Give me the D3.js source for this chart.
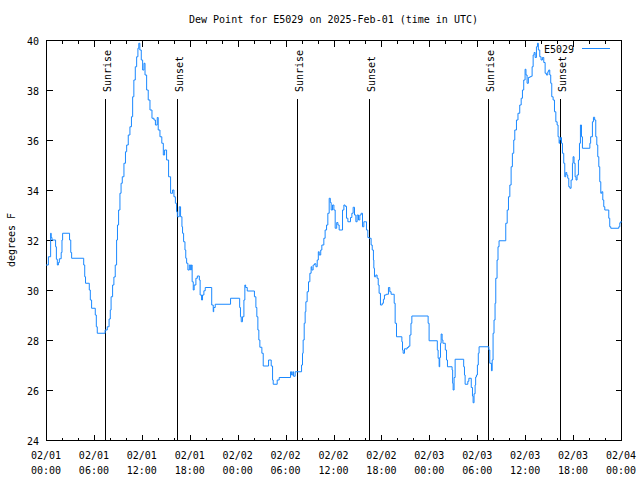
<!DOCTYPE html>
<html><head><meta charset="utf-8">
<script src="https://cdn.jsdelivr.net/npm/d3@7"></script>
<style>
body{margin:0;background:#fff;}
text{font-family:"DejaVu Sans Mono","Liberation Mono",monospace;font-size:10px;fill:#000;}
</style></head><body>
<svg id="c" width="640" height="480"></svg>
<script>
// Hours since 2025-02-01 00:00 UTC
const hours = [0.0,0.3,0.58,0.65,0.75,1.2,1.3,1.42,1.55,1.67,1.9,2.0,2.08,2.95,3.1,3.21,4.72,4.85,4.95,5.42,5.55,5.71,6.17,6.3,6.42,7.4,7.67,7.9,8.05,8.15,8.34,8.5,8.67,8.84,8.95,9.09,9.26,9.4,9.55,9.76,9.95,10.1,10.3,10.51,10.7,10.85,11.0,11.18,11.35,11.51,11.62,11.75,11.93,12.1,12.27,12.4,12.6,12.8,13.02,13.27,13.52,13.7,13.93,14.05,14.27,14.5,14.69,14.85,15.1,15.35,15.6,15.85,16.02,16.2,16.35,16.45,16.69,16.85,17.02,17.1,17.23,17.4,17.5,17.61,17.77,17.95,18.11,18.2,18.3,18.44,18.55,18.77,18.95,19.2,19.3,19.48,19.6,19.77,19.94,20.75,20.94,21.0,21.19,23.11,24.25,24.35,24.45,24.6,24.78,24.9,25.0,25.2,26.1,26.28,26.4,26.53,26.65,26.78,27.03,27.2,27.87,28.2,28.37,28.45,28.95,29.2,30.62,30.75,30.9,31.0,31.2,32.0,32.12,32.2,32.33,32.45,32.54,32.7,32.87,33.04,33.2,33.29,33.45,33.62,33.8,33.96,34.1,34.21,34.4,34.54,34.79,34.95,35.13,35.29,35.46,35.6,35.71,35.88,36.05,36.21,36.4,36.55,36.71,37.13,37.3,37.45,37.63,37.8,38.13,38.3,38.46,38.63,38.8,38.96,39.13,39.3,39.46,39.63,39.8,39.97,40.13,40.3,40.46,40.71,40.85,41.0,41.05,41.13,41.3,41.46,41.6,41.71,41.88,42.1,42.25,42.38,42.6,42.88,43.05,43.21,43.6,43.72,43.89,44.56,44.64,44.72,44.89,45.06,45.22,45.4,45.56,45.7,45.81,47.85,47.97,49.0,49.1,49.23,49.3,49.4,49.48,49.6,49.7,50.0,50.15,50.27,50.85,50.92,50.98,51.1,51.23,52.3,52.4,52.48,52.82,52.95,53.25,53.4,53.48,53.6,53.73,53.8,53.9,54.02,54.13,54.23,55.45,55.57,55.78,55.87,55.98,56.1,56.23,56.32,56.48,56.6,56.73,57.57,57.75,57.91,58.08,58.24,58.4,58.57,58.7,58.91,59.1,59.32,59.5,59.66,59.82,59.99,60.1,60.24,60.4,60.58,60.75,60.87,61.0,61.12,61.25,61.41,61.54,61.65,61.83,61.99,62.16,62.33,62.5,62.66,62.83,62.95,63.08,63.2,63.33,63.5,63.67,63.84,64.0,64.12,64.25,64.33,64.42,64.55,64.67,64.83,64.96,65.08,65.21,65.33,65.46,65.6,65.75,65.92,66.0,66.12,66.25,66.37,66.5,66.67,66.8,66.92,67.05,67.17,68.1,68.2,68.42,68.55,68.7,68.84,68.97,69.09,69.22,69.34,69.47,69.59,69.72,69.84,69.97,70.47,70.59,70.72,71.72,71.85,72.0];
const dewF = [31.0,31.33,32.27,32.1,32.0,31.73,31.23,31.0,31.1,31.25,31.5,32.0,32.27,32.0,31.5,31.27,31.0,30.53,30.27,30.0,29.6,29.27,29.0,28.53,28.27,28.4,28.53,28.84,29.2,29.73,30.2,30.52,31.0,32.0,32.6,33.2,33.87,34.27,34.53,35.07,35.53,35.8,36.2,36.53,36.93,37.73,38.4,38.93,39.33,39.67,39.87,39.6,39.2,38.8,39.07,38.6,38.0,37.6,37.2,36.87,36.8,36.6,36.9,36.4,36.13,35.87,35.4,35.6,35.2,34.53,33.87,34.0,33.73,33.47,33.13,32.93,33.33,32.93,32.53,32.27,31.93,31.6,31.27,31.07,30.8,31.0,30.8,31.0,30.33,30.0,30.2,30.47,30.56,30.4,29.8,29.6,29.8,29.97,30.1,29.4,29.13,29.3,29.43,29.67,29.3,28.93,28.73,28.93,29.6,30.2,30.1,29.96,29.73,29.3,28.93,28.4,28.0,27.71,27.47,26.96,27.2,26.96,26.4,26.23,26.4,26.5,26.73,26.6,26.73,26.55,26.73,27.0,27.47,28.0,28.67,29.13,29.53,29.93,30.33,30.67,30.93,30.8,31.0,31.05,30.93,31.2,31.53,31.4,31.6,31.8,32.07,32.4,32.6,33.07,33.67,33.5,33.2,33.4,33.2,32.47,32.7,32.6,32.4,33.2,33.4,33.35,32.87,32.73,32.9,33.07,33.31,33.0,32.73,33.0,32.8,33.0,33.07,32.53,32.73,32.73,32.4,32.1,32.07,31.8,31.6,31.2,30.87,30.53,30.6,30.47,30.2,29.87,29.4,29.47,29.63,29.8,29.83,30.1,29.93,29.83,29.47,28.67,28.13,27.93,27.6,27.47,27.65,27.64,27.7,27.75,28.2,28.67,28.96,28.67,27.97,27.6,27.27,26.93,27.3,27.87,28.24,28.0,27.87,27.6,27.2,26.93,26.8,26.27,26.0,26.5,27.23,26.93,26.6,26.23,26.35,26.47,26.1,25.76,25.49,25.85,26.2,26.52,26.6,27.0,27.47,27.73,27.6,27.07,26.77,27.2,28.27,28.8,29.47,30.47,31.2,31.73,31.97,32.67,33.2,33.73,34.2,34.93,35.47,36.0,36.4,36.8,37.07,37.4,37.67,38.0,38.4,38.83,38.6,38.27,38.5,38.53,38.55,38.93,39.4,39.5,39.3,39.73,39.87,39.6,39.33,39.2,39.3,39.1,38.67,38.6,38.73,38.8,38.6,38.27,37.73,37.6,37.13,36.73,36.6,36.13,35.87,36.0,36.1,35.87,35.47,35.07,34.53,34.7,34.6,34.47,34.13,34.07,34.4,35.07,35.33,35.07,34.53,34.4,34.6,35.2,35.87,36.6,36.13,35.67,35.87,36.13,36.73,36.91,36.8,36.13,35.8,35.33,34.93,34.33,33.87,33.93,33.6,33.33,33.2,32.87,32.53,32.47,32.53,32.69,32.76];
const eventLabels = ["Sunrise","Sunset","Sunrise","Sunset","Sunrise","Sunset"];
const eventHours = [7.4,16.43,31.43,40.45,55.38,64.38];
const yTicks = [24,26,28,30,32,34,36,38,40];
const seriesName = "E5029";
const titleText = "Dew Point for E5029 on 2025-Feb-01 (time in UTC)";
const yLabel = "degrees F";

const t0 = Date.UTC(2025,1,1);
const toDate = h => new Date(t0 + h*3600e3);
const data = hours.map((h,i)=>({t:toDate(h), v:dewF[i]}));

const svg = d3.select("#c");
const L=46, R=621, T=40, B=440;
const x = d3.scaleUtc().domain([toDate(0), toDate(72)]).range([L,R]);
const y = d3.scaleLinear().domain([24,40]).range([B,T]);

const g = svg.append("g").attr("shape-rendering","crispEdges");
const majorT = d3.range(0,73,6).map(toDate);
const minorT = d3.range(0,73,2).filter(h=>h%6!==0).map(toDate);

function tickLines(vals,len){
  vals.forEach(d=>{
    const xx = Math.round(x(d))+0.5;
    g.append("line").attr("x1",xx).attr("x2",xx).attr("y1",B+0.5).attr("y2",B+0.5-len).attr("stroke","#000");
    g.append("line").attr("x1",xx).attr("x2",xx).attr("y1",T+0.5).attr("y2",T+0.5+len).attr("stroke","#000");
  });
}
tickLines(majorT,6); tickLines(minorT,3);
yTicks.forEach(v=>{
  const yy = Math.round(y(v))+0.5;
  g.append("line").attr("x1",L+0.5).attr("x2",L+6.5).attr("y1",yy).attr("y2",yy).attr("stroke","#000");
  g.append("line").attr("x1",R+0.5).attr("x2",R-5.5).attr("y1",yy).attr("y2",yy).attr("stroke","#000");
  svg.append("text").attr("x",L-7).attr("y",yy+4).attr("text-anchor","end").text(v);
});
const fmtD = d3.utcFormat("%m/%d"), fmtH = d3.utcFormat("%H:%M");
majorT.forEach(d=>{
  const xx = x(d);
  svg.append("text").attr("x",xx).attr("y",459).attr("text-anchor","middle").text(fmtD(d));
  svg.append("text").attr("x",xx).attr("y",474).attr("text-anchor","middle").text(fmtH(d));
});

// sunrise/sunset
eventHours.forEach((h,i)=>{
  const xx = Math.round(x(toDate(h)))+0.5;
  g.append("line").attr("x1",xx).attr("x2",xx).attr("y1",99).attr("y2",B).attr("stroke","#000");
  svg.append("text").attr("transform",`translate(${xx+5},92) rotate(-90)`).attr("text-anchor","start").text(eventLabels[i]);
});

// series
const line = d3.line().x(d=>x(d.t)).y(d=>y(d.v)).curve(d3.curveStepAfter);
svg.append("path").datum(data).attr("d",line).attr("fill","none").attr("stroke","#1a88ff").attr("stroke-width",1);

// frame
g.append("rect").attr("x",L+0.5).attr("y",T+0.5).attr("width",R-L).attr("height",B-T).attr("fill","none").attr("stroke","#000");

// title, y label, legend
svg.append("text").attr("x",(L+R)/2).attr("y",23).attr("text-anchor","middle").text(titleText);
svg.append("text").attr("transform","translate(15,240) rotate(-90)").attr("text-anchor","middle").text(yLabel);
svg.append("text").attr("x",574).attr("y",53).attr("text-anchor","end").text(seriesName);
svg.append("line").attr("x1",582).attr("x2",610).attr("y1",48.5).attr("y2",48.5).attr("stroke","#1a88ff").attr("shape-rendering","crispEdges");
</script></body></html>
